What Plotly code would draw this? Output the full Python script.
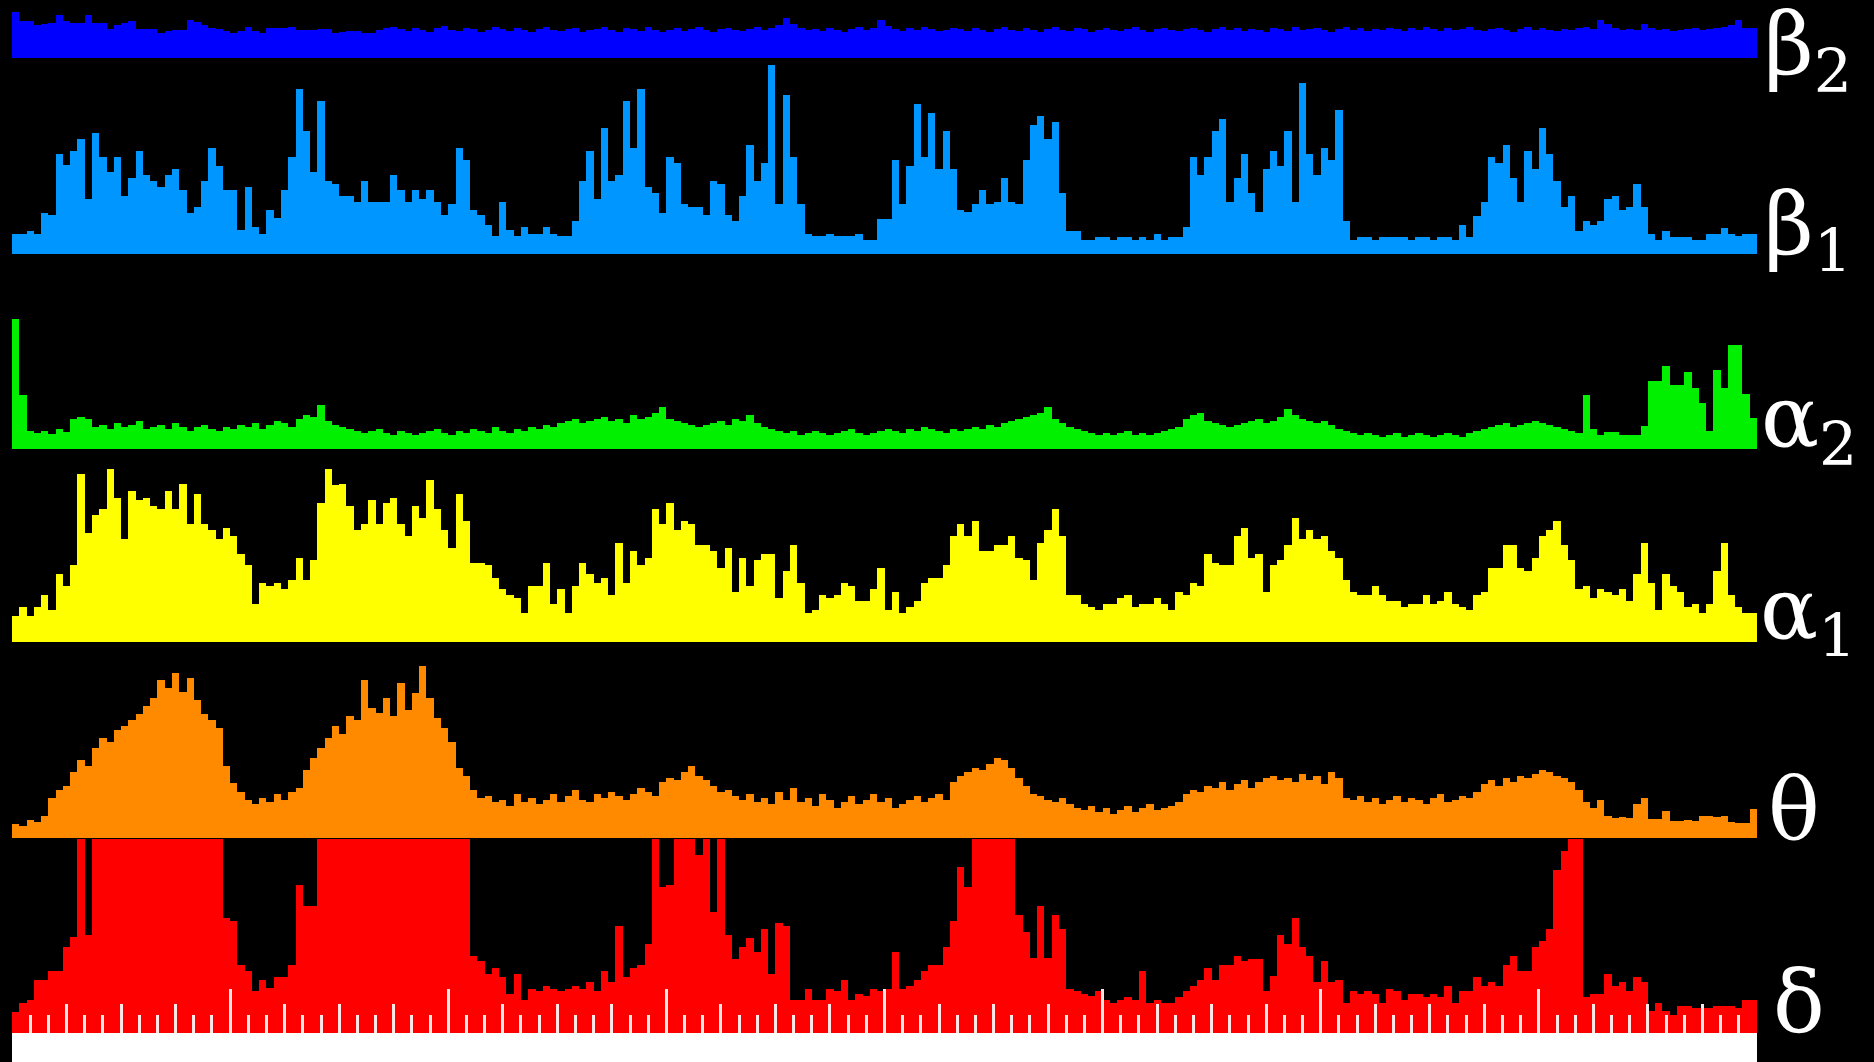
import plotly.graph_objects as go

# ---------------- data (bar heights per time bin) ----------------
beta2 = [46,37,37,33,34,35,43,37,35,35, 43,35,35,29,33,35,37,29,29,29,
         25,27,28,28,38,36,33,30,29,27, 25,27,31,27,25,30,30,30,31,28,
         28,28,29,29,25,26,27,27,25,25, 28,30,31,29,27,30,28,26,30,32,
         28,27,30,29,26,28,31,29,27,30, 28,26,29,31,28,27,29,30,26,28,
         29,31,28,26,30,29,27,31,28,26, 28,30,27,29,31,28,26,29,30,28,
         27,29,31,28,30,33,40,34,30,28, 29,27,30,28,26,29,31,28,30,38,
         32,29,27,30,28,31,29,27,28,30, 29,27,30,28,26,29,31,28,27,30,
         28,26,29,31,28,27,30,29,26,28, 30,28,27,29,31,28,26,29,30,28,
         27,29,30,28,26,29,31,28,30,27, 29,28,26,30,29,27,31,28,29,30,
         28,26,29,31,28,30,27,29,28,30, 29,27,30,28,31,29,27,30,28,29,
         31,28,27,29,30,28,26,29,31,28, 30,28,27,29,28,30,31,29,38,34,
         30,28,29,28,34,30,28,29,27,28, 29,30,28,29,30,31,33,38,30,30]

beta1 = [20,20,23,20,41,39,100,89,103,115, 55,121,97,82,97,58,76,103,79,73,
         67,79,85,64,41,47,73,106,88,64, 64,24,67,27,20,44,36,64,97,165,
         123,82,153,73,70,58,58,52,73,52, 52,52,79,64,52,64,55,64,52,39,
         50,106,94,44,39,29,18,52,24,18, 27,20,20,27,20,18,18,33,73,103,
         55,126,73,79,153,106,165,67,61,41, 97,91,50,47,47,39,73,70,39,33,
         58,109,73,91,189,50,159,97,50,20, 18,18,20,18,18,18,20,14,14,35,
         35,94,50,88,150,97,141,85,123,85, 44,42,50,64,50,52,76,52,50,94,
         129,138,115,132,61,23,23,14,14,17, 17,14,17,17,14,17,14,20,14,17,
         17,27,97,79,97,123,135,52,76,100, 61,42,85,103,88,123,52,171,100,79,
         106,94,144,33,14,17,17,14,17,17, 17,17,14,17,17,14,17,17,14,29,
         17,38,52,97,91,109,76,52,103,85, 126,100,73,47,58,23,33,29,33,55,
         58,44,47,70,47,20,14,23,17,17, 17,14,14,20,20,26,20,18,20,20]

alpha2 = [130,54,18,16,18,15,20,17,30,32, 30,22,24,20,26,22,24,28,20,22,
          24,20,26,22,18,22,24,20,18,22, 20,24,22,26,20,24,28,26,22,30,
          34,32,44,28,24,22,20,18,16,18, 20,16,14,18,16,14,16,18,20,16,
          14,18,16,20,18,16,22,18,16,20, 18,22,20,24,22,26,28,30,26,28,
          30,32,28,30,26,34,30,32,36,42, 30,28,26,24,22,24,26,28,24,30,
          28,34,26,22,20,18,16,18,14,16, 18,16,14,16,18,20,16,14,16,18,
          20,18,16,20,18,22,20,18,16,20, 18,20,22,20,24,22,26,28,30,32,
          34,36,42,30,26,22,20,18,16,14, 16,14,16,18,14,16,14,16,18,20,
          22,30,34,36,28,26,24,22,24,26, 28,30,26,28,32,40,34,30,28,26,
          28,24,20,18,16,14,16,14,12,14, 16,12,14,16,14,12,14,16,14,12,
          16,18,20,22,24,26,22,24,26,28, 26,24,22,20,18,16,54,20,14,17,
          17,14,14,14,23,68,68,83,64,64, 77,61,46,18,79,61,104,104,55,31]

alpha1 = [26,35,26,35,47,32,68,56,77,168, 109,127,133,173,144,103,151,142,144,136,
          133,151,133,158,118,148,118,112,103,114, 106,88,77,38,59,56,59,53,62,84,
          62,82,139,173,157,158,136,112,118,142, 118,139,144,118,106,136,124,162,133,112,
          94,148,121,79,79,77,64,53,47,44, 29,56,56,79,38,53,29,56,79,68,
          59,64,47,99,59,91,77,84,133,118, 139,112,121,118,97,97,91,74,94,50,
          84,56,82,88,88,44,71,97,59,29, 32,47,44,47,59,56,41,41,53,74,
          32,50,29,35,41,59,64,64,77,106, 118,106,121,91,91,97,97,106,84,82,
          62,99,112,133,106,47,47,38,35,32, 38,38,44,47,35,38,38,44,38,32,
          50,47,59,56,88,79,77,77,106,114, 84,88,50,77,82,97,124,103,112,103,
          106,91,84,62,50,47,47,56,47,41, 41,35,38,38,47,38,41,50,38,35,
          32,47,50,74,74,97,97,74,71,84, 106,112,121,97,82,53,56,44,53,50,
          47,53,41,68,99,59,32,68,56,50, 35,38,29,38,71,99,47,35,29,29]

theta = [14,12,18,16,22,40,48,52,66,78, 72,90,100,96,108,112,118,124,132,140,
         158,150,165,146,160,138,124,118,110,72, 55,46,38,34,40,36,44,38,46,50,
         68,80,90,100,112,104,122,118,158,130, 125,140,122,155,128,145,172,140,120,110,
         96,70,62,48,40,42,36,38,32,44, 36,40,34,38,44,36,42,48,38,36,
         44,40,46,42,38,44,50,46,42,56, 60,58,66,72,62,58,52,46,48,42,
         38,44,36,40,34,46,38,50,36,40, 32,44,38,30,36,42,34,38,44,36,
         40,30,34,38,42,36,40,44,38,56, 62,66,70,68,74,80,78,70,60,52,
         44,42,38,36,40,34,30,28,32,26, 30,24,28,32,26,30,34,28,30,32,
         36,44,48,46,52,50,56,48,54,58, 50,56,60,62,58,60,56,64,58,62,
         54,66,60,40,38,42,36,40,34,38, 42,36,40,38,34,40,44,36,38,42,
         40,46,54,58,52,60,56,62,60,64, 68,66,62,60,56,48,36,30,38,22,
         20,21,20,34,40,19,19,27,17,17, 18,17,22,22,21,22,16,15,15,29]

delta = [21,30,33,53,53,62,62,86,96,200, 98,200,200,200,200,200,200,200,200,200,
         200,200,200,200,200,200,200,200,200,115, 112,68,62,42,53,45,56,56,68,148,
         127,127,200,200,200,200,200,200,200,200, 200,200,200,200,200,200,200,200,200,200,
         200,200,200,77,72,59,65,56,39,59, 33,44,42,47,44,42,44,47,44,51,
         42,62,51,107,56,65,68,89,200,146, 148,200,200,200,178,200,121,200,98,74,
         86,95,81,104,59,110,107,33,33,44, 33,33,44,42,53,33,39,37,44,42,
         44,81,44,47,53,62,68,68,86,112, 166,146,200,200,200,200,200,200,118,101,
         75,127,75,118,104,44,42,39,37,42, 33,30,33,36,33,62,30,33,30,30,
         36,42,47,53,65,53,68,68,77,72, 74,74,42,57,98,89,115,86,77,51,
         72,51,53,30,42,39,42,39,30,44, 42,33,39,39,36,39,36,47,30,42,
         42,56,47,51,47,68,77,62,62,86, 92,104,163,182,200,200,36,39,39,59,
         47,51,42,56,51,22,30,22,18,27, 27,25,25,25,27,27,27,25,33,33]

band_labels = ["β<sub>2</sub>", "β<sub>1</sub>", "α<sub>2</sub>", "α<sub>1</sub>", "θ", "δ"]

# ---------------- styling / layout ----------------
W, H = 1874, 1062
X_LEFT, X_RIGHT = 12, 1757
series = [beta2, beta1, alpha2, alpha1, theta, delta]
colors = ["#0000FF", "#0096FF", "#00F000", "#FFFF00", "#FF8A00", "#FF0000"]
# (baseline px from top, top px from top) for each band
bands = [(58, 0), (254, 59), (449, 255), (642, 450), (838, 643), (1033, 839)]
label_y = [50, 230, 423, 615, 809, 1002]
label_x = [1762, 1762, 1759, 1758, 1766, 1771]

N = len(delta)
bins = list(range(N))

fig = go.Figure()
layout = dict(
    width=W, height=H, margin=dict(l=0, r=0, t=0, b=0),
    paper_bgcolor="black", plot_bgcolor="black",
    showlegend=False, bargap=0, bargroupgap=0,
)

for k, (vals, col) in enumerate(zip(series, colors)):
    idx = k + 1
    xa = "x" if idx == 1 else f"x{idx}"
    ya = "y" if idx == 1 else f"y{idx}"
    fig.add_trace(go.Bar(x=bins, y=vals, xaxis=xa, yaxis=ya,
                         marker=dict(color=col, line=dict(width=0)),
                         width=1.0, hoverinfo="skip"))
    base, top = bands[k]
    xkey = "xaxis" if idx == 1 else f"xaxis{idx}"
    ykey = "yaxis" if idx == 1 else f"yaxis{idx}"
    layout[xkey] = dict(domain=[X_LEFT / W, X_RIGHT / W], anchor=ya,
                        range=[-0.5, N - 0.5], showgrid=False, zeroline=False,
                        showticklabels=False, ticks="", showline=False)
    layout[ykey] = dict(domain=[1 - base / H, 1 - top / H], anchor=xa,
                        range=[0, base - top], showgrid=False, zeroline=False,
                        showticklabels=False, ticks="", showline=False)

# tick marks on the bottom (delta) axis: small / medium / tall
tick_col = "#FFE6E6"
layout["xaxis6"].update(ticks="inside", tickmode="linear", tick0=-0.5, dtick=N / 32,
                        ticklen=29, tickwidth=2.5, tickcolor=tick_col,
                        minor=dict(ticks="inside", tickmode="linear", tick0=-0.5,
                                   dtick=N / 96, ticklen=18, tickwidth=2.5,
                                   tickcolor=tick_col, showgrid=False))
layout["xaxis7"] = dict(overlaying="x6", anchor="y6", side="bottom",
                        range=[-0.5, N - 0.5], showgrid=False, zeroline=False,
                        showticklabels=False, ticks="inside", tickmode="linear",
                        tick0=-0.5, dtick=N / 8, ticklen=44, tickwidth=2.5,
                        tickcolor=tick_col, showline=False)
fig.add_trace(go.Scatter(x=[], y=[], xaxis="x7", yaxis="y6", hoverinfo="skip"))

layout["shapes"] = [dict(type="rect", xref="paper", yref="paper",
                         x0=X_LEFT / W, x1=X_RIGHT / W, y0=0, y1=(H - 1033) / H,
                         fillcolor="white", line=dict(width=0), layer="above")]

layout["annotations"] = [
    dict(text=t, xref="paper", yref="paper", x=lx / W, y=1 - ly / H,
         xanchor="left", yanchor="middle", showarrow=False,
         font=dict(family="DejaVu Serif", size=86, color="white"))
    for t, lx, ly in zip(band_labels, label_x, label_y)
]

fig.update_layout(**layout)
fig.write_html(
    "out.html",
    config={"displayModeBar": False},
    post_script="document.body.style.margin='0';document.body.style.padding='0';"
                "document.body.style.background='black';"
                "document.body.style.overflow='hidden';",
)
